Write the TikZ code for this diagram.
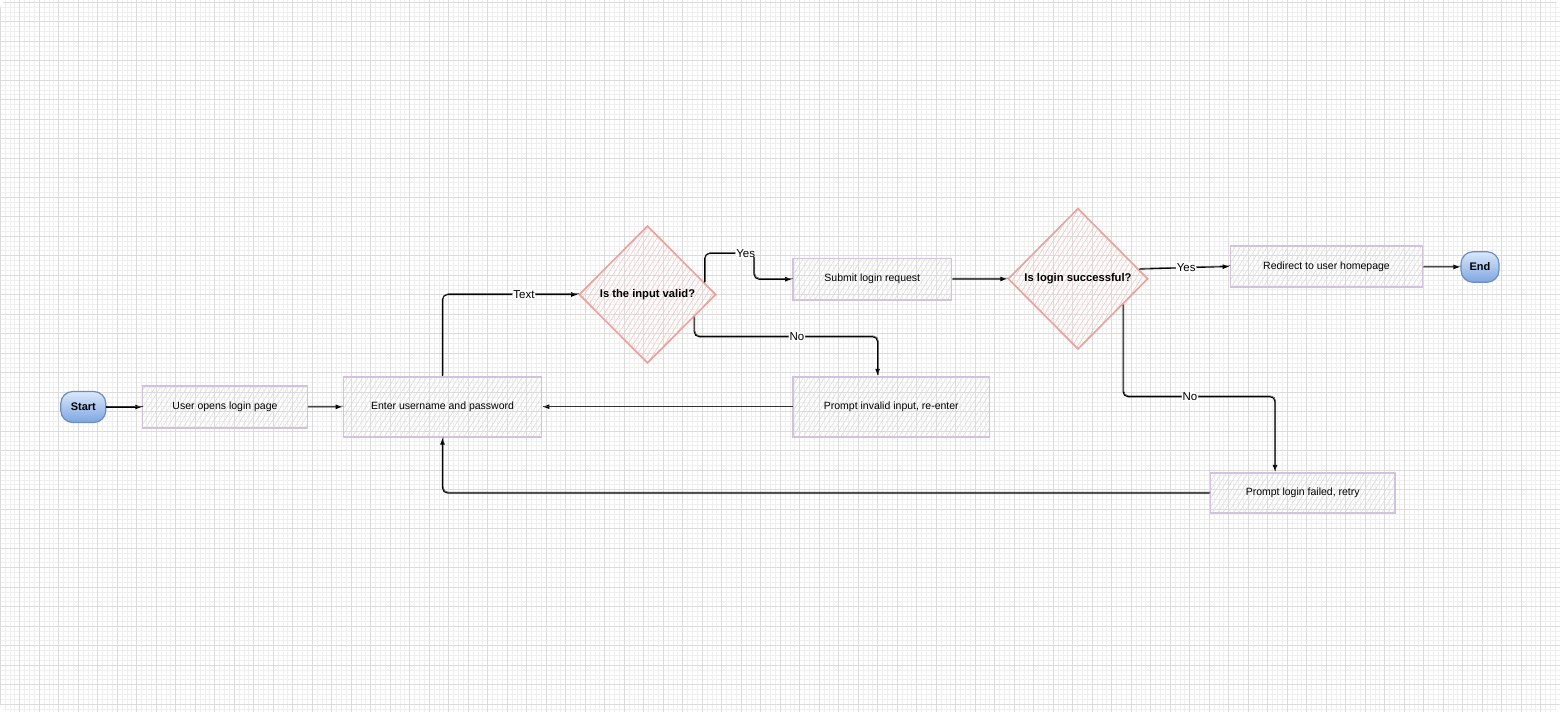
\documentclass[tikz,border=0pt]{standalone}
\usepackage{fontspec}
\setmainfont{Liberation Sans}
\usetikzlibrary{shapes.geometric,arrows.meta,calc,patterns.meta}
\definecolor{boxline}{HTML}{D3C1E0}
\definecolor{diamline}{HTML}{E8A59F}
\definecolor{blueline}{HTML}{6C8EBF}
\definecolor{bluetop}{HTML}{DAE8FC}
\definecolor{bluebot}{HTML}{7EA6E0}
\definecolor{gridmin}{HTML}{EFEFEF}
\definecolor{gridmaj}{HTML}{DCDCDC}
\definecolor{hatchgray}{HTML}{DADADA}
\definecolor{hatchpink}{HTML}{F2C4C0}
\begin{document}
\begin{tikzpicture}[x=1pt,y=-1pt,
  box/.style={rectangle, draw=boxline, line width=1.8pt,
    pattern={Lines[angle=58,distance=4.5pt,line width=0.5pt]}, pattern color=hatchgray,
    inner sep=0pt, font=\fontsize{10.5}{12}\selectfont},
  diam/.style={diamond, draw=diamline, line width=1.7pt,
    pattern={Lines[angle=58,distance=4.5pt,line width=0.5pt]}, pattern color=hatchpink,
    inner sep=0pt, font=\bfseries\fontsize{11.2}{13}\selectfont},
  term/.style={rectangle, rounded corners=12pt, draw=blueline, line width=1.2pt,
    top color=bluetop, bottom color=bluebot, inner sep=0pt,
    font=\bfseries\fontsize{11}{13}\selectfont},
  conn/.style={draw=black, line width=1.1pt, -{Latex[length=7pt,width=5pt]}, rounded corners=5pt,
    postaction={draw=black!80, -, line width=0.5pt, transform canvas={xshift=0.7pt,yshift=0.8pt}}},
  lbl/.style={fill=white, inner sep=1pt, font=\fontsize{11.5}{13}\selectfont}
]
\useasboundingbox (0,0) rectangle (1560,712);
\fill[white] (0,0) rectangle (1560,712);
\begin{scope}
\clip[rounded corners=10pt] (0,0) rectangle (1560,712);
\foreach \i in {0,...,320} \draw[gridmin, line width=0.5pt] ({\i*4.875},0) -- ({\i*4.875},712);
\foreach \j in {0,...,146} \draw[gridmin, line width=0.5pt] (0,{2+\j*4.875}) -- (1560,{2+\j*4.875});
\foreach \i in {0,...,80} \draw[gridmaj, line width=0.6pt] ({\i*19.5},0) -- ({\i*19.5},712);
\foreach \j in {0,...,36} \draw[gridmaj, line width=0.6pt] (0,{2+\j*19.5}) -- (1560,{2+\j*19.5});
\end{scope}

% nodes
\node[term, minimum width=45pt, minimum height=31pt] (start) at (83.3,407) {Start};
\node[box, minimum width=165pt, minimum height=41.5pt] (open) at (225,407) {User opens login page};
\node[box, minimum width=198pt, minimum height=60pt] (enter) at (442.5,406.7) {Enter username and password};
\node[diam, minimum width=137pt, minimum height=137.5pt] (valid) at (647.5,294.5) {Is the input valid?};
\node[box, minimum width=158.5pt, minimum height=41.5pt] (submit) at (872.3,279.2) {Submit login request};
\node[box, minimum width=196.5pt, minimum height=60pt] (inv) at (891.3,406.7) {Prompt invalid input, re-enter};
\node[diam, minimum width=140pt, minimum height=141pt] (succ) at (1078,278.8) {Is login successful?};
\node[box, minimum width=192pt, minimum height=41.5pt] (redir) at (1326.5,266.5) {Redirect to user homepage};
\node[term, minimum width=38pt, minimum height=30.5pt] (end) at (1480,267) {End};
\node[box, minimum width=184.5pt, minimum height=40.5pt] (fail) at (1302.7,493) {Prompt login failed, retry};

% helper coordinates
\coordinate (y1) at (754,253.3);
\coordinate (n1) at (877.6,336.7);
\coordinate (n2) at (1275,396.7);

% connectors
\draw[conn] (start) -- (open);
\draw[conn] (open) -- (enter);
\draw[conn] (enter.north) |- node[lbl,pos=0.8]{Text} (valid.west);
\draw[conn] (valid.12) |- node[lbl,pos=0.915]{Yes} (y1) -- (y1 |- submit.west) -- (submit.west);
\draw[conn] (valid.-26) |- node[lbl,pos=0.78]{No} (n1) -- (n1 |- inv.north);
\draw[conn] (inv) -- (enter);
\draw[conn] (submit) -- (succ);
\draw[conn] (succ.9) -- node[lbl,pos=0.52]{Yes} (redir.west);
\draw[conn] (redir) -- (end);
\draw[conn] (succ.-30) |- node[lbl,pos=0.72]{No} (n2) -- (n2 |- fail.north);
\draw[conn] (fail.west) -| (enter.south);
\end{tikzpicture}
\end{document}
